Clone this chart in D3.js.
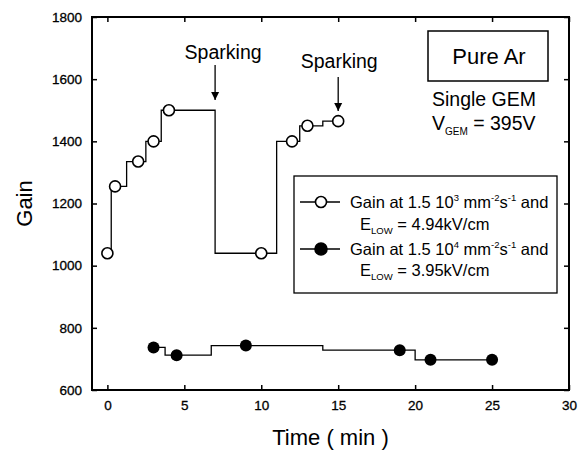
<!DOCTYPE html>
<html>
<head>
<meta charset="utf-8">
<script src="https://cdn.jsdelivr.net/npm/d3@7"></script>
<style>
  body { margin: 0; background: #fff; }
  text { font-family: "Liberation Sans", Arial, sans-serif; fill: #000; }
</style>
</head>
<body>
<div id="chart"></div>
<script>
// gain vs time, low rate (open circles) and high rate (filled circles)
const lowTime  = [0, 0.5, 2, 3, 4, 10, 12, 13, 15]
const lowGain  = [1040, 1255, 1335, 1400, 1500, 1040, 1400, 1450, 1465]
const highTime = [3, 4.5, 9, 19, 21, 25]
const highGain = [737, 712, 743, 728, 697, 697]

const xTicks = [0, 5, 10, 15, 20, 25, 30]
const yTicks = [600, 800, 1000, 1200, 1400, 1600, 1800]

const width = 580, height = 450
const margin = { top: 17, right: 11, bottom: 60, left: 92 }

const svg = d3.select("#chart")
    .append("svg")
    .attr("width", width)
    .attr("height", height)

const x = d3.scaleLinear().domain([-1, 30]).range([margin.left, width - margin.right])
const y = d3.scaleLinear().domain([600, 1800]).range([height - margin.bottom, margin.top])

const tick = 5

// axes, ticks pointing inward on all four sides
svg.append("g")
    .attr("transform", `translate(0,${y(600)})`)
    .call(d3.axisBottom(x).tickValues(xTicks).tickFormat(d3.format("d"))
        .tickSizeInner(-tick).tickSizeOuter(0).tickPadding(10))
svg.append("g")
    .attr("transform", `translate(0,${y(1800)})`)
    .call(d3.axisTop(x).tickValues(xTicks).tickSizeInner(-tick).tickSizeOuter(0).tickFormat(""))
svg.append("g")
    .attr("transform", `translate(${x(-1)},0)`)
    .call(d3.axisLeft(y).tickValues(yTicks).tickFormat(d3.format("d"))
        .tickSizeInner(-tick).tickSizeOuter(0).tickPadding(10))
svg.append("g")
    .attr("transform", `translate(${x(30)},0)`)
    .call(d3.axisRight(y).tickValues(yTicks).tickSizeInner(-tick).tickSizeOuter(0).tickFormat(""))

svg.selectAll(".domain").remove()
svg.selectAll(".tick line").attr("stroke", "#000").attr("stroke-width", 1.5)
svg.selectAll(".tick text")
    .style("font-size", "13.5px")
    .style("font-family", "'Liberation Sans', Arial, sans-serif")
    .attr("fill", "#000")
    .attr("stroke", "#000").attr("stroke-width", 0.3)

// frame
svg.append("rect")
    .attr("x", x(-1)).attr("y", y(1800))
    .attr("width", x(30) - x(-1)).attr("height", y(600) - y(1800))
    .attr("fill", "none").attr("stroke", "#000").attr("stroke-width", 2)

// axis titles
svg.append("text")
    .attr("x", (x(-1) + x(30)) / 2)
    .attr("y", 445)
    .attr("text-anchor", "middle")
    .style("font-size", "22px")
    .text("Time ( min )")

svg.append("text")
    .attr("transform", `translate(32,${(y(600) + y(1800)) / 2}) rotate(-90)`)
    .attr("text-anchor", "middle")
    .style("font-size", "22px")
    .text("Gain")

// step lines
const step = d3.line()
    .x(d => x(d[0]))
    .y(d => y(d[1]))
    .curve(d3.curveStep)

const lowData  = lowTime.map((t, i) => [t, lowGain[i]])
const highData = highTime.map((t, i) => [t, highGain[i]])

svg.append("path")
    .attr("d", step(lowData))
    .attr("fill", "none").attr("stroke", "#000").attr("stroke-width", 1.3)
svg.append("path")
    .attr("d", step(highData))
    .attr("fill", "none").attr("stroke", "#000").attr("stroke-width", 1.3)

svg.append("g").selectAll("circle")
    .data(lowData)
    .join("circle")
    .attr("cx", d => x(d[0])).attr("cy", d => y(d[1]))
    .attr("r", 5.5)
    .attr("fill", "#fff").attr("stroke", "#000").attr("stroke-width", 1.6)

svg.append("g").selectAll("circle")
    .data(highData)
    .join("circle")
    .attr("cx", d => x(d[0])).attr("cy", d => y(d[1]))
    .attr("r", 6)
    .attr("fill", "#000")

// sparking annotations
svg.append("defs").append("marker")
    .attr("id", "arrow")
    .attr("viewBox", "0 0 8 10")
    .attr("refX", 8).attr("refY", 5)
    .attr("markerWidth", 8).attr("markerHeight", 10)
    .attr("markerUnits", "userSpaceOnUse")
    .attr("orient", "auto")
    .append("path")
    .attr("d", "M0,1 L8,5 L0,9 Z")
    .attr("fill", "#000")

function spark(t, textY, y0, y1, cx) {
    svg.append("text")
        .attr("x", cx).attr("y", textY)
        .attr("text-anchor", "middle")
        .style("font-size", "19.5px")
        .text("Sparking")
    svg.append("line")
        .attr("x1", x(t)).attr("x2", x(t))
        .attr("y1", y0).attr("y2", y1)
        .attr("stroke", "#000").attr("stroke-width", 1.3)
        .attr("marker-end", "url(#arrow)")
}
spark(7, 59, 65, 100, x(7) + 8)
spark(15, 68, 77, 111, x(15) + 1)

// "Pure Ar" box
svg.append("rect")
    .attr("x", 428).attr("y", 31)
    .attr("width", 120).attr("height", 50)
    .attr("fill", "none").attr("stroke", "#000").attr("stroke-width", 1.5)
svg.append("text")
    .attr("x", 489).attr("y", 64)
    .attr("text-anchor", "middle")
    .style("font-size", "22px")
    .text("Pure Ar")

svg.append("text")
    .attr("x", 432).attr("y", 106)
    .style("font-size", "19.5px")
    .text("Single GEM")

const vg = svg.append("text")
    .attr("x", 432).attr("y", 130)
    .style("font-size", "19.5px")
vg.append("tspan").text("V")
vg.append("tspan").attr("dy", 5).style("font-size", "10px").text("GEM")
vg.append("tspan").attr("dy", -5).text(" = 395V")

// legend
const lg = svg.append("g")
lg.append("rect")
    .attr("x", 294).attr("y", 176)
    .attr("width", 263).attr("height", 117)
    .attr("fill", "#fff").attr("stroke", "#000").attr("stroke-width", 1.3)

function legendRow(yy, filled, power, field, yField) {
    lg.append("line")
        .attr("x1", 300).attr("x2", 340).attr("y1", yy).attr("y2", yy)
        .attr("stroke", "#000").attr("stroke-width", 1.3)
    lg.append("circle")
        .attr("cx", 321).attr("cy", yy)
        .attr("r", filled ? 6 : 5.5)
        .attr("fill", filled ? "#000" : "#fff")
        .attr("stroke", "#000").attr("stroke-width", 1.6)

    const t = lg.append("text").attr("x", 350).attr("y", yy + 6).style("font-size", "16.5px")
    t.append("tspan").text("Gain at 1.5 10")
    t.append("tspan").attr("dy", -7).style("font-size", "9.5px").text("3".replace("3", power))
    t.append("tspan").attr("dy", 7).text(" mm")
    t.append("tspan").attr("dy", -7).style("font-size", "9.5px").text("-2")
    t.append("tspan").attr("dy", 7).text("s")
    t.append("tspan").attr("dy", -7).style("font-size", "9.5px").text("-1")
    t.append("tspan").attr("dy", 7).text(" and")

    const e = lg.append("text").attr("x", 360).attr("y", yField).style("font-size", "16.5px")
    e.append("tspan").text("E")
    e.append("tspan").attr("dy", 4).style("font-size", "9.5px").text("LOW")
    e.append("tspan").attr("dy", -4).text(" = " + field)
}
legendRow(202, false, "3", "4.94kV/cm", 230)
legendRow(249, true, "4", "3.95kV/cm", 276)
</script>
</body>
</html>
